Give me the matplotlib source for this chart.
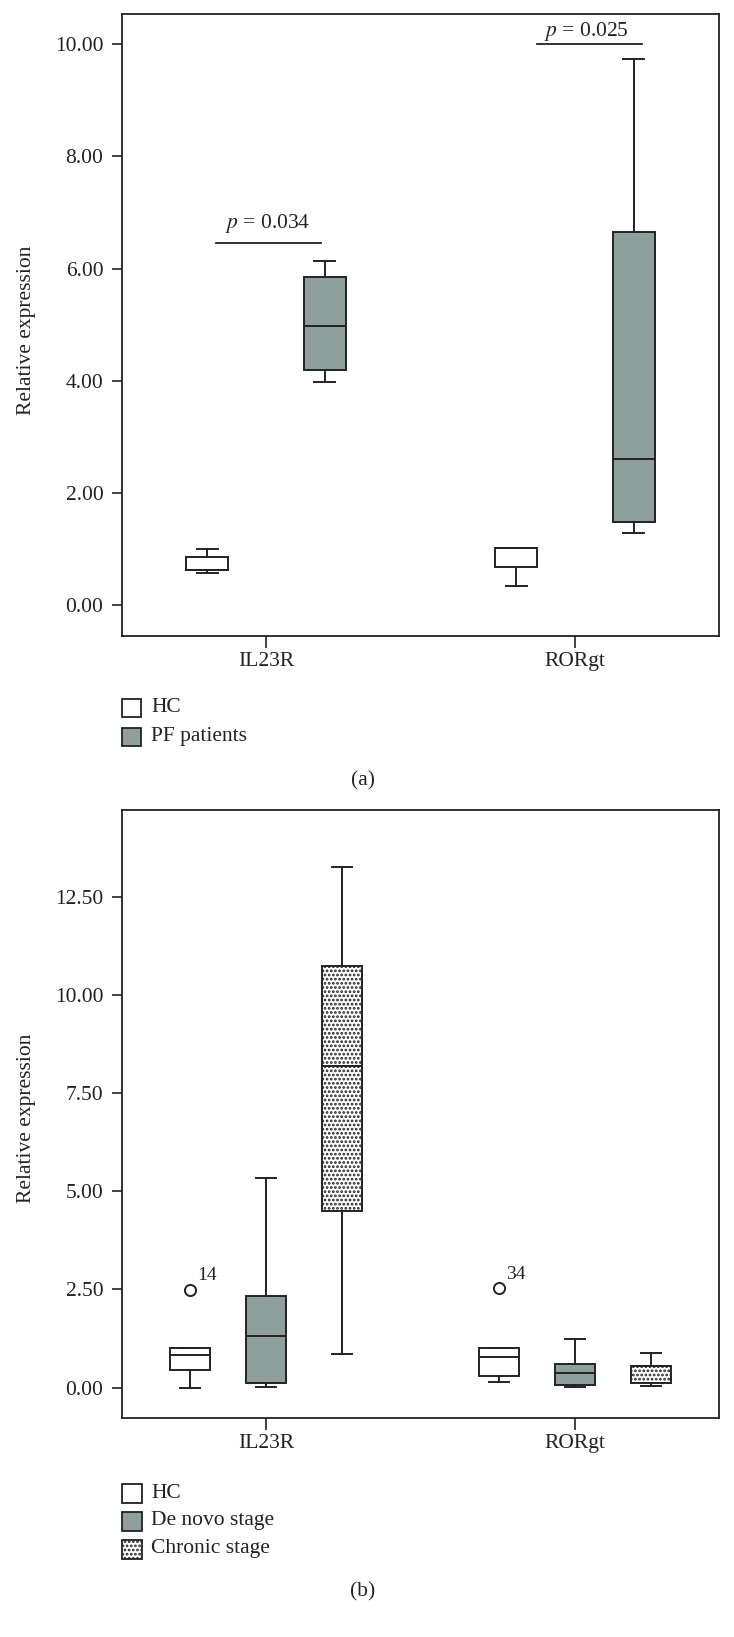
import matplotlib
matplotlib.use('Agg')
import matplotlib.pyplot as plt
from matplotlib.patches import Rectangle

plt.rcParams['font.family'] = ['Liberation Serif', 'DejaVu Serif']
plt.rcParams['mathtext.fontset'] = 'stix'
plt.rcParams['hatch.color'] = '#222222'
plt.rcParams['hatch.linewidth'] = 1.3

# ---------------- data ----------------
categories = ['IL23R', 'RORgt']
yticks_a = [0, 2, 4, 6, 8, 10]
yticks_b = [0, 2.5, 5, 7.5, 10, 12.5]

# panel (a): [whislo, q1, median, q3, whishi] per category
hc_a = [[0.57, 0.62, 0.62, 0.86, 1.005],
        [0.34, 0.675, 1.02, 1.02, 1.02]]
pf_a = [[3.98, 4.19, 4.98, 5.85, 6.14],
        [1.29, 1.48, 2.60, 6.65, 9.74]]
p_values_a = ['0.034', '0.025']
p_line_y_a = [6.45, 10.0]

# panel (b)
hc_b = [[0.0, 0.44, 0.82, 1.01, 1.01],
        [0.14, 0.29, 0.79, 1.00, 1.00]]
hc_b_fliers = [[2.49], [2.53]]
hc_b_flier_ids = ['14', '34']
denovo_b = [[0.02, 0.12, 1.31, 2.33, 5.34],
            [0.005, 0.06, 0.37, 0.59, 1.23]]
chronic_b = [[0.85, 4.51, 8.20, 10.75, 13.28],
             [0.04, 0.12, 0.54, 0.54, 0.89]]

legend_a = ['HC', 'PF patients']
legend_b = ['HC', 'De novo stage', 'Chronic stage']

# ---------------- style ----------------
W, H = 734, 1637
GRAY = '#8fa09c'
LC = '#222222'
FS = 15.5

def fx(px):
    return px / W

def fy(py):
    return 1 - py / H

def stats(vals, fliers=()):
    lo, q1, med, q3, hi = vals
    return dict(whislo=lo, q1=q1, med=med, q3=q3, whishi=hi, fliers=list(fliers))

fig = plt.figure(figsize=(W / 100, H / 100), dpi=100)

def style_axes(ax, yticks, ylim):
    ax.set_xlim(-0.466, 1.466)
    ax.set_ylim(*ylim)
    ax.set_yticks(yticks)
    ax.set_yticklabels(['%.2f' % t for t in yticks], fontsize=FS)
    ax.set_xticks(range(len(categories)))
    ax.set_xticklabels(categories, fontsize=FS)
    ax.tick_params(axis='y', direction='out', length=7.5, width=1.2, pad=6, colors=LC)
    ax.tick_params(axis='x', direction='out', length=8.5, width=1.2, pad=3, colors=LC)
    for s in ax.spines.values():
        s.set_linewidth(1.3)
        s.set_color(LC)

def draw(ax, groups, offsets, width, faces, hatches):
    for grp, off, fc, ht in zip(groups, offsets, faces, hatches):
        pos = [ci + off for ci in range(len(categories))]
        ax.bxp(grp, positions=pos, widths=width, patch_artist=True,
               capwidths=width * 0.5,
               boxprops=dict(facecolor=fc, edgecolor=LC, linewidth=1.4, hatch=ht),
               medianprops=dict(color=LC, linewidth=1.4),
               whiskerprops=dict(color=LC, linewidth=1.4),
               capprops=dict(color=LC, linewidth=1.4),
               flierprops=dict(marker='o', markerfacecolor='white',
                               markeredgecolor=LC, markersize=8,
                               markeredgewidth=1.4),
               manage_ticks=False)

# ---------------- panel (a) ----------------
axa = fig.add_axes([fx(122), fy(636), fx(719) - fx(122), fy(13.5) - fy(636)])
style_axes(axa, yticks_a, (-0.549, 10.547))
draw(axa,
     [[stats(v) for v in hc_a], [stats(v) for v in pf_a]],
     [-0.19, 0.19], 0.136, ['white', GRAY], [None, None])

p_line_x = [(-0.162, 0.178), (-0.123, 0.217)]
p_text_xy = [(0.006, 6.81), (0.036, 10.23)]
for ci, (pv, ly) in enumerate(zip(p_values_a, p_line_y_a)):
    x0, x1 = p_line_x[ci]
    axa.plot([ci + x0, ci + x1], [ly, ly], color=LC, lw=1.3)
    tx, ty = p_text_xy[ci]
    axa.text(ci + tx, ty, r'$p$ = ' + pv, ha='center', va='center',
             fontsize=FS, color=LC)

fig.text(fx(26), fy(330), 'Relative expression', rotation=90, ha='center',
         va='center', fontsize=FS, color=LC)

# legend (a)
for i, lab in enumerate(legend_a):
    cy = 708 + 29 * i
    fig.add_artist(Rectangle((fx(122), fy(cy + 9)), fx(140.5) - fx(122), 18 / H,
                             transform=fig.transFigure, facecolor=['white', GRAY][i],
                             edgecolor=LC, lw=1.3))
    fig.text(fx(151), fy(cy), lab, ha='left', va='center', fontsize=FS, color=LC)
fig.text(fx(363), fy(781), '(a)', ha='center', va='center', fontsize=FS, color=LC)

# ---------------- panel (b) ----------------
axb = fig.add_axes([fx(122), fy(1417.7), fx(719) - fx(122), fy(810) - fy(1417.7)])
style_axes(axb, yticks_b, (-0.77, 14.73))
draw(axb,
     [[stats(v, f) for v, f in zip(hc_b, hc_b_fliers)],
      [stats(v) for v in denovo_b],
      [stats(v) for v in chronic_b]],
     [-0.246, 0.0, 0.246], 0.13, ['white', GRAY, 'white'], [None, None, '....'])

for ci, (fl, lab) in enumerate(zip(hc_b_fliers, hc_b_flier_ids)):
    axb.annotate(lab, (ci - 0.246, fl[0]), xytext=(5, 10), textcoords='offset points',
                 ha='left', va='center', fontsize=14, color=LC)

fig.text(fx(26), fy(1118), 'Relative expression', rotation=90, ha='center',
         va='center', fontsize=FS, color=LC)

for i, lab in enumerate(legend_b):
    cy = 1493 + 28 * i
    fig.add_artist(Rectangle((fx(122), fy(cy + 9.5)), fx(142) - fx(122), 19 / H,
                             transform=fig.transFigure,
                             facecolor=['white', GRAY, 'white'][i],
                             hatch=[None, None, '....'][i],
                             edgecolor=LC, lw=1.3))
    fig.text(fx(151), fy(cy), lab, ha='left', va='center', fontsize=FS, color=LC)
fig.text(fx(363), fy(1592), '(b)', ha='center', va='center', fontsize=FS, color=LC)

fig.savefig('out.png', dpi=100)
